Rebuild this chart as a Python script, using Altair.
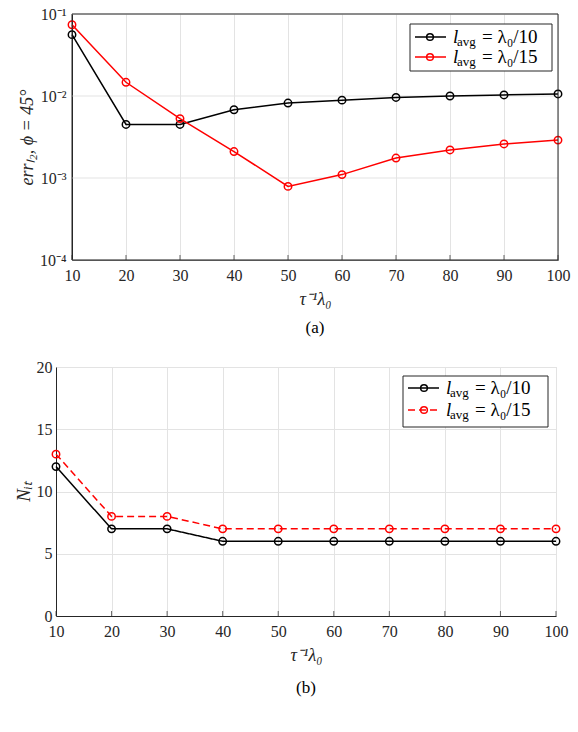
import altair as alt
import pandas as pd

x_vals = [10, 20, 30, 40, 50, 60, 70, 80, 90, 100]
err_10 = [0.056, 0.0045, 0.0045, 0.0068, 0.0082, 0.0089, 0.0096, 0.0100, 0.0103, 0.0106]
err_15 = [0.074, 0.0147, 0.0053, 0.0021, 0.00079, 0.0011, 0.00175, 0.0022, 0.0026, 0.0029]
nit_10 = [12, 7, 7, 6, 6, 6, 6, 6, 6, 6]
nit_15 = [13, 8, 8, 7, 7, 7, 7, 7, 7, 7]
series_names = ["λ₀/10", "λ₀/15"]
series_colors = ["#000000", "#ff0000"]
x_ticks = x_vals
y_ticks_log = [1e-4, 1e-3, 1e-2, 1e-1]
y_ticks_lin = [0, 5, 10, 15, 20]

FONT = "Liberation Serif"
AXC = "#262626"
GRID = "#e3e3e3"
SHIFT = 16          # top panel frame starts this many px right of the bottom one
TOP_W, TOP_H = 502, 246
BOT_W, BOT_H = 500, 249

def long_df(a, b):
    rows = []
    for i, x in enumerate(x_vals):
        rows.append({"x": x, "y": a[i], "s": series_names[0]})
        rows.append({"x": x, "y": b[i], "s": series_names[1]})
    return pd.DataFrame(rows)

color_scale = alt.Scale(domain=series_names, range=series_colors)

def x_scale(r0=None, r1=None):
    if r0 is None:
        return alt.Scale(domain=[10, 100], nice=False, zero=False)
    return alt.Scale(domain=[10, 100], range=[r0, r1], nice=False, zero=False)

def x_axis():
    return alt.Axis(values=x_ticks, title="τ⁻¹λ₀", titleFont=FONT, titleFontSize=18,
                    titleFontStyle="italic", titleFontWeight="normal", titleColor=AXC,
                    titlePadding=7, labelFont=FONT, labelFontSize=16, labelColor=AXC,
                    ticks=False, labelPadding=7, gridColor=GRID, domainColor=AXC,
                    labelFlush=False)

def legend_layers(box, rows, line_x, circ_x, text_x, dashes):
    one = pd.DataFrame({"a": [0]})
    layers = [alt.Chart(one).mark_rect(fill="white", stroke=AXC, strokeWidth=1).encode(
        x=alt.value(box[0]), x2=alt.value(box[1]), y=alt.value(box[2]), y2=alt.value(box[3]))]
    for i, ry in enumerate(rows):
        c = series_colors[i]
        layers.append(alt.Chart(one).mark_rule(color=c, strokeWidth=1.5, strokeDash=dashes[i]).encode(
            x=alt.value(line_x[0]), x2=alt.value(line_x[1]), y=alt.value(ry)))
        layers.append(alt.Chart(one).mark_point(shape="circle", filled=False, color=c, size=45,
                                                strokeWidth=1.5, opacity=1).encode(
            x=alt.value(circ_x), y=alt.value(ry)))
        layers.append(alt.Chart(one).mark_text(text="l", font=FONT, fontSize=19, fontStyle="italic",
                                               align="left", baseline="alphabetic", color="black").encode(
            x=alt.value(text_x), y=alt.value(ry + 6)))
        layers.append(alt.Chart(one).mark_text(text="avg", font=FONT, fontSize=13,
                                               align="left", baseline="alphabetic", color="black").encode(
            x=alt.value(text_x + 4), y=alt.value(ry + 9)))
        layers.append(alt.Chart(one).mark_text(text="= λ₀/" + series_names[i].split("/")[1], font=FONT,
                                               fontSize=19, align="left", baseline="alphabetic",
                                               color="black").encode(
            x=alt.value(text_x + 29), y=alt.value(ry + 6)))
    return layers

def inner_ticks(h, scale):
    tdf = pd.DataFrame({"x": x_ticks})
    return alt.Chart(tdf).mark_tick(orient="vertical", size=5, thickness=1, color=AXC).encode(
        x=alt.X("x:Q", scale=scale), y=alt.value(h - 2.5))

# ---------- top panel ----------
top_x_scale = x_scale(SHIFT, TOP_W)
log_scale = alt.Scale(type="log", domain=[1e-4, 1e-1], nice=False)
df_a = long_df(err_10, err_15)
base_a = alt.Chart(df_a).encode(
    x=alt.X("x:Q", scale=top_x_scale, axis=x_axis()),
    y=alt.Y("y:Q", scale=log_scale,
            axis=alt.Axis(values=y_ticks_log, title="errₗ₂,  ϕ = 45°", titleFont=FONT,
                          titleFontSize=18, titleFontStyle="italic", titleFontWeight="normal",
                          titleColor=AXC, titlePadding=3, labelFont=FONT, labelFontSize=16,
                          labelColor=AXC, ticks=False, labelPadding=6, grid=False,
                          domainColor=AXC, minExtent=0, offset=-SHIFT, labelFlush=False,
                          labelExpr="datum.value < 0.0005 ? '10⁻⁴' : datum.value < 0.005 ? '10⁻³' : datum.value < 0.05 ? '10⁻²' : '10⁻¹'")),
    color=alt.Color("s:N", scale=color_scale, legend=None),
    detail="s:N",
)
ygrid_a = alt.Chart(pd.DataFrame({"y": y_ticks_log})).mark_rule(color=GRID, strokeWidth=1).encode(
    y=alt.Y("y:Q", scale=log_scale), x=alt.value(SHIFT), x2=alt.value(TOP_W))
frame_a = alt.Chart(pd.DataFrame({"a": [0]})).mark_rect(
    fill="transparent", stroke=AXC, strokeWidth=1).encode(
    x=alt.value(SHIFT), x2=alt.value(TOP_W), y=alt.value(0), y2=alt.value(TOP_H))
lines_a = base_a.mark_line(strokeWidth=1.5)
pts_a = base_a.mark_point(shape="circle", filled=False, size=55, strokeWidth=1.5, opacity=1)
top = alt.layer(ygrid_a, lines_a, pts_a, inner_ticks(TOP_H, top_x_scale), frame_a,
                *legend_layers((338 + SHIFT, 480 + SHIFT, 10, 57), (23, 43),
                               (343 + SHIFT, 374 + SHIFT), 358 + SHIFT, 381 + SHIFT,
                               [[1, 0], [1, 0]])).properties(
    width=TOP_W, height=TOP_H,
    view=alt.ViewBackground(stroke="transparent"),
    title=alt.TitleParams("(a)", orient="bottom", font=FONT, fontSize=17, fontWeight="normal",
                          color="black", anchor="middle", frame="group", offset=12,
                          dx=SHIFT / 2))

# ---------- bottom panel ----------
df_b = long_df(nit_10, nit_15)
bot_x_scale = x_scale()
base_b = alt.Chart(df_b).encode(
    x=alt.X("x:Q", scale=bot_x_scale, axis=x_axis()),
    y=alt.Y("y:Q", scale=alt.Scale(domain=[0, 20], nice=False),
            axis=alt.Axis(values=y_ticks_lin, title="Nᵢₜ", titleFont=FONT,
                          titleFontSize=19, titleFontStyle="italic", titleFontWeight="normal",
                          titleColor=AXC, titlePadding=3, labelFont=FONT, labelFontSize=16,
                          labelColor=AXC, ticks=False, labelPadding=4, gridColor=GRID,
                          domainColor=AXC, minExtent=0, labelFlush=False)),
    color=alt.Color("s:N", scale=color_scale, legend=None),
    detail="s:N",
)
lines_b = base_b.mark_line(strokeWidth=1.5).encode(
    strokeDash=alt.StrokeDash("s:N", scale=alt.Scale(domain=series_names, range=[[1, 0], [7, 4]]),
                              legend=None))
pts_b = base_b.mark_point(shape="circle", filled=False, size=55, strokeWidth=1.5, opacity=1)
bottom = alt.layer(lines_b, pts_b, inner_ticks(BOT_H, bot_x_scale),
                   *legend_layers((347, 492, 9, 60), (21, 43), (352, 383), 368, 390,
                                  [[1, 0], [7, 4]])).properties(
    width=BOT_W, height=BOT_H,
    title=alt.TitleParams("(b)", orient="bottom", font=FONT, fontSize=17, fontWeight="normal",
                          color="black", anchor="middle", frame="group", offset=16))

chart = alt.vconcat(top, bottom, spacing=21).properties(
    padding={"left": 13, "top": 5, "right": 5, "bottom": 5}
).configure_view(stroke=AXC, strokeWidth=1).configure(background="white", font=FONT)

chart.save("out.html", embed_options={"renderer": "svg", "actions": False})
